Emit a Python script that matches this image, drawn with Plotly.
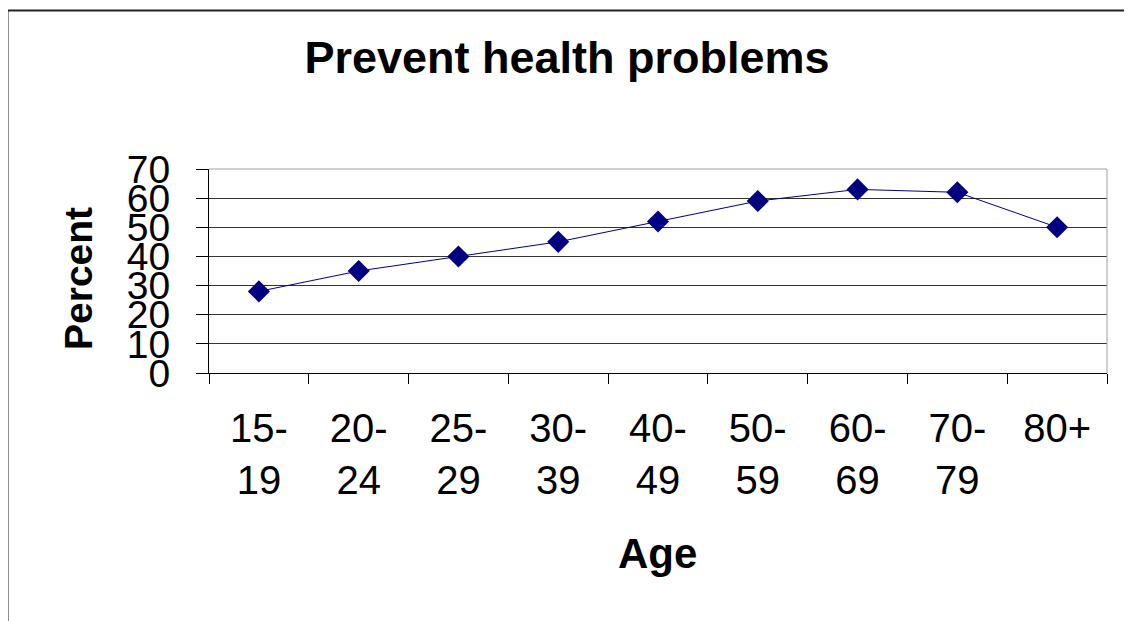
import plotly.graph_objects as go

age_groups = ["15-<br>19", "20-<br>24", "25-<br>29", "30-<br>39", "40-<br>49",
              "50-<br>59", "60-<br>69", "70-<br>79", "80+"]
percent = [28, 35, 40, 45, 52, 59, 63, 62, 50]
y_ticks = [0, 10, 20, 30, 40, 50, 60, 70]

W, H = 1132, 621
OFF = 8  # page body offset
L, R, T, B = 209 - OFF, 25 + OFF, 169 - OFF, 248 + OFF
pw, ph = W - L - R, H - T - B


def px_x(x):
    return (x - OFF - L) / pw


def px_y(y):
    return (T + ph - (y - OFF)) / ph


fig = go.Figure()
fig.add_trace(go.Scatter(
    x=age_groups, y=percent, mode="lines+markers",
    line=dict(color="#000080", width=1),
    marker=dict(symbol="diamond", size=17, color="#000080"),
    showlegend=False,
))

font = "Liberation Sans, Arial, sans-serif"
fig.update_layout(
    width=W, height=H,
    margin=dict(l=L, r=R, t=T, b=B, autoexpand=False),
    paper_bgcolor="white", plot_bgcolor="white",
    font=dict(family=font, color="black"),
    title=dict(text="<b>Prevent health problems</b>", x=(567 - OFF) / W, xanchor="center",
               y=1 - (57 - OFF) / H, yanchor="middle", xref="container", yref="container",
               font=dict(size=45, family=font, color="black")),
    xaxis=dict(
        type="category", showline=True, linecolor="black", linewidth=1,
        ticks="outside", ticklen=10, tickcolor="black", tickson="boundaries",
        tickfont=dict(size=40), showgrid=False, ticklabelstandoff=20,
        range=[-0.5, 8.5], mirror=False,
    ),
    yaxis=dict(
        range=[0, 70], tickvals=y_ticks, showline=True, linecolor="black", linewidth=1,
        ticks="outside", ticklen=12, tickcolor="black", tickfont=dict(size=39),
        showgrid=True, gridcolor="#333333", gridwidth=1, zeroline=False,
        ticklabelstandoff=18,
    ),
    annotations=[
        dict(text="<b>Age</b>", xref="paper", yref="paper",
             x=px_x(657), y=px_y(553), xanchor="center", yanchor="middle",
             showarrow=False, font=dict(size=42, family=font, color="black")),
        dict(text="<b>Percent</b>", xref="paper", yref="paper", textangle=-90,
             x=px_x(78), y=px_y(279), xanchor="center", yanchor="middle",
             showarrow=False, font=dict(size=39, family=font, color="black")),
    ],
    shapes=[
        dict(type="rect", xref="paper", yref="paper",
             x0=px_x(7.5), x1=px_x(1150),
             y0=px_y(650), y1=px_y(10.5),
             line=dict(color="#222222", width=2), layer="below"),
        dict(type="line", xref="paper", yref="paper", x0=1, x1=1, y0=0, y1=1,
             line=dict(color="#a0a0a0", width=1)),
        dict(type="line", xref="paper", yref="paper", x0=0, x1=1, y0=1, y1=1,
             line=dict(color="#a0a0a0", width=1)),
    ],
)

fig.write_html("out.html")
